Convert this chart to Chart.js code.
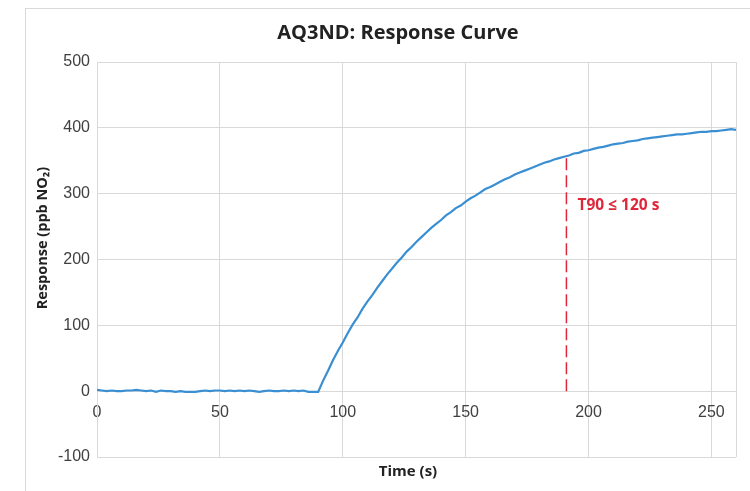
<!DOCTYPE html>
<html>
<head>
<meta charset="utf-8">
<script src="https://cdn.jsdelivr.net/npm/chart.js@4"></script>
<style>
  html, body { margin: 0; padding: 0; background: #fff; overflow: hidden; }
  .card { position: absolute; left: 25px; top: 8px; width: 900px; height: 700px; border: 1px solid #d9d9d9; }
  canvas { position: absolute; left: 0; top: 0; }
</style>
</head>
<body>
<div class="card"></div>
<canvas id="chart" width="750" height="491"></canvas>
<script>
// time axis (s) and sensor response (ppb NO2)
const timeS = [
  0, 2, 4, 6, 8, 10, 12, 14, 16, 18, 20, 22, 24, 26, 28, 30, 32, 34, 36, 38,
  40, 42, 44, 46, 48, 50, 52, 54, 56, 58, 60, 62, 64, 66, 68, 70, 72, 74, 76, 78,
  80, 82, 84, 86, 88, 90, 92, 94, 96, 98, 100, 102, 104, 106, 108, 110, 112, 114, 116, 118,
  120, 122, 124, 126, 128, 130, 132, 134, 136, 138, 140, 142, 144, 146, 148, 150, 152, 154, 156, 158,
  160, 162, 164, 166, 168, 170, 172, 174, 176, 178, 180, 182, 184, 186, 188, 190, 192, 194, 196, 198,
  200, 202, 204, 206, 208, 210, 212, 214, 216, 218, 220, 222, 224, 226, 228, 230, 232, 234, 236, 238,
  240, 242, 244, 246, 248, 250, 252, 254, 256, 258, 260
];
const responsePpb = [
  2, 1, 0, 1, 0, 0, 1, 1, 2, 1, 0, 1, -1, 1, 0, 0, -1, 0, -1, -1,
  -1, 0, 1, 0, 1, 1, 0, 1, 0, 1, 0, 1, 0, -1, 0, 1, 0, 0, 1, 0,
  1, 0, 1, -1, -1, -1, 16, 31, 47, 61, 74, 88, 101, 112, 125, 136, 146, 157, 167, 177,
  186, 195, 203, 212, 219, 227, 234, 241, 248, 254, 260, 267, 272, 278, 282, 288, 293, 297, 302, 307,
  310, 314, 318, 322, 325, 329, 332, 335, 338, 341, 344, 347, 349, 352, 354, 356, 358, 361, 362, 365,
  366, 368, 370, 371, 373, 375, 376, 377, 379, 380, 381, 383, 384, 385, 386, 387, 388, 389, 390, 390,
  391, 392, 393, 394, 394, 395, 395, 396, 397, 398, 397
];
const xTicks = [0, 50, 100, 150, 200, 250];

// T90 marker
const t90Time = [191, 191];
const t90Level = [0, 357];
const t90Label = "T90 \u2264 120 s";

const BLUE = "#3a8fd3";
const RED = "#e0263a";
const GRID = "#d9d9d9";
const FONT = "'Liberation Sans', Arial, sans-serif";
const BOLD = "'Open Sans', 'Liberation Sans', sans-serif";

const curve = timeS.map((t, i) => ({ x: t, y: responsePpb[i] }));
const marker = t90Time.map((t, i) => ({ x: t, y: t90Level[i] }));

// titles, right frame edge and the T90 label
const decor = {
    id: "decor",
    beforeDatasetsDraw(chart) {
        const { ctx, chartArea: a } = chart;
        ctx.save();
        ctx.strokeStyle = GRID;
        ctx.lineWidth = 1;
        const rx = Math.round(a.right) + 0.5;
        ctx.beginPath();
        ctx.moveTo(rx, a.top);
        ctx.lineTo(rx, a.bottom);
        ctx.stroke();
        ctx.restore();
    },
    afterDraw(chart) {
        const { ctx, scales: { x, y } } = chart;
        ctx.save();
        ctx.fillStyle = RED;
        ctx.font = "bold 15.5px " + BOLD;
        ctx.textAlign = "left";
        ctx.textBaseline = "middle";
        ctx.fillText(t90Label, x.getPixelForValue(195.5), y.getPixelForValue(282));

        ctx.fillStyle = "#222";
        ctx.textAlign = "center";
        ctx.font = "bold 20px " + BOLD;
        ctx.fillText("AQ3ND: Response Curve", 398, 33);
        ctx.font = "bold 15px " + BOLD;
        ctx.fillText("Time (s)", 408, 472);

        ctx.font = "bold 14.5px " + BOLD;
        ctx.translate(43, 238);
        ctx.rotate(-Math.PI / 2);
        ctx.fillText("Response (ppb NO\u2082)", 0, 0);
        ctx.restore();
    }
};

const chart = new Chart(document.getElementById("chart").getContext("2d"), {
    type: "scatter",
    data: {
        datasets: [
            {
                data: curve,
                showLine: true,
                borderColor: BLUE,
                borderWidth: 2.2,
                pointRadius: 0,
                tension: 0
            },
            {
                data: marker,
                showLine: true,
                borderColor: RED,
                borderWidth: 1.5,
                borderDash: [12, 5],
                pointRadius: 0
            }
        ]
    },
    options: {
        responsive: false,
        animation: false,
        layout: { padding: { top: 62, right: 14, bottom: 34, left: 0 } },
        plugins: { legend: { display: false }, tooltip: { enabled: false } },
        scales: {
            x: {
                type: "linear",
                position: { y: 0 },
                min: 0,
                max: 260,
                grid: { color: GRID, drawTicks: false },
                border: { color: GRID },
                ticks: { padding: 12, color: "#404040", font: { family: FONT, size: 16 } },
                afterBuildTicks: s => { s.ticks = xTicks.map(v => ({ value: v })); },
                afterFit: s => { s.height = 0; }
            },
            y: {
                min: -100,
                max: 500,
                grid: { color: GRID, drawTicks: false },
                border: { color: GRID },
                ticks: { stepSize: 100, padding: 7, color: "#404040", font: { family: FONT, size: 16 } },
                afterFit: s => { s.width = 97; }
            }
        }
    },
    plugins: [decor]
});
</script>
</body>
</html>
